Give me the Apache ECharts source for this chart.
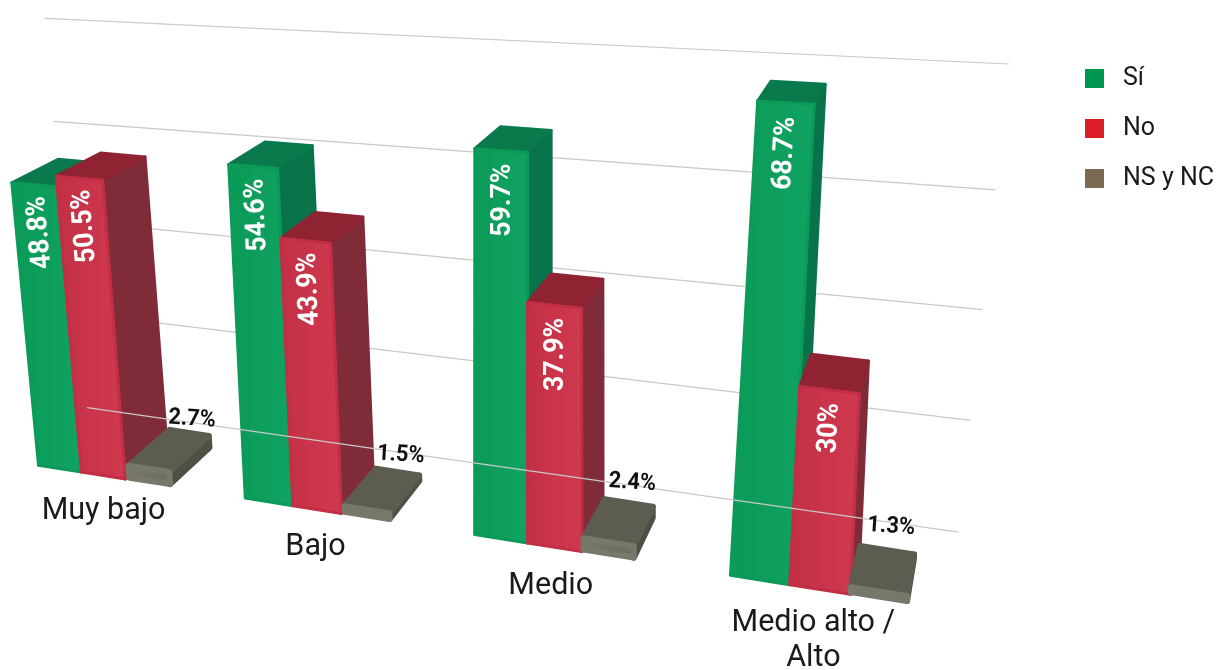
<!DOCTYPE html>
<html><head><meta charset="utf-8">
<style>html,body{margin:0;padding:0;background:#fff}#c{width:1219px;height:670px}</style>
<script src="https://cdn.jsdelivr.net/npm/echarts@6/dist/echarts.min.js"></script>
</head><body><div id="c"></div>
<script>
const categories = ['Muy bajo', 'Bajo', 'Medio', 'Medio alto /\nAlto'];
const si = [48.8, 54.6, 59.7, 68.7];
const no = [50.5, 43.9, 37.9, 30];
const ns = [2.7, 1.5, 2.4, 1.3];
const gridValues = [0, 18, 35, 52.5, 70];

// perspective of the flat axis plane (three vanishing points)
const O = [37, 465], VX = [-3963, -171], VY = [473, 5067], VZ = [1064, -349];
const A = -1 / 4000, B = -1 / 4600, C = 1 / 1000;
const BAR_DEPTH = 46, WALL_DEPTH = 72;
function P(X, Y, Z) {
  const a = A * X, b = B * Y, c = C * Z, w = 1 + a + b + c;
  return [(O[0] + a * VX[0] + b * VY[0] + c * VZ[0]) / w,
          (O[1] + a * VX[1] + b * VY[1] + c * VZ[1]) / w];
}
const flat = (pt) => [pt[0] - O[0], O[1] - pt[1]];
const looks = {
  green: {front: ['#0b9a58', '#10a361'], top: '#0a7a4c', side: '#08734a', lw: 3, inset: 0},
  red: {front: ['#c22f45', '#d03a4f'], top: '#8f2332', side: '#7f2b38', lw: 3, inset: 0},
  gray: {front: ['#78786a', '#6c6c5c'], top: '#5c5c50', side: '#4f4f44', lw: 6, inset: 2}
};
const poly = (pts, fill, stroke, lw) => ({type: 'polygon', shape: {points: pts},
  style: {fill, stroke: stroke || fill, lineWidth: lw, lineJoin: 'round'}});

function barRender(k, look, small) {
  return function (params, api) {
    const i = api.value(0), v = api.value(1);
    const base = api.coord([i, 0]), top = api.coord([i, v]);
    const bw = api.size([1, 0])[0] * 0.2163;
    const [cx, Y0] = flat(base), Yv = flat(top)[1];
    const Xg = cx - 1.5 * bw, far = Xg / 590;
    // upright edges stay nearly parallel toward the near side of the picture
    const T = (x, y) => Xg + (x - Xg) * (1 - 0.14 * (y / 372) * far);
    const gap = small ? 2 - 4 * far : 0;
    const X0 = Xg + k * bw + look.inset + gap, X1 = Xg + (k + 1) * bw - look.inset + gap;
    const D = BAR_DEPTH, lw = look.lw;
    const F = (x, y, z) => {
      const X = T(x, y);
      return P(X, y, z * (1 + A * X + B * y));
    };
    const Yb = Y0 + (small ? 2 : 0), Yt = Math.max(Yv - (small ? 1 : 0), Yb + 1);
    const ch = [
      poly([F(X1, Yb, 0), F(X1, Yb, D), F(X1, Yt, D), F(X1, Yt, 0)], look.side, look.side, lw),
      poly([F(X0, Yt, 0), F(X1, Yt, 0), F(X1, Yt, D), F(X0, Yt, D)], look.top, look.top, lw),
      poly([F(X0, Yb, 0), F(X1, Yb, 0), F(X1, Yt, 0), F(X0, Yt, 0)],
        new echarts.graphic.LinearGradient(0, 0, 1, 0, [{offset: 0, color: look.front[0]}, {offset: 1, color: look.front[1]}]),
        look.front[0], lw)
    ];
    const Xc = (X0 + X1) / 2;
    if (!small) {
      const Yl = Yv - 10;
      const p = F(Xc + 1.5, Yl, 0), q = F(Xc + 1.5, Yl + 20, 0);
      ch.push({type: 'text', x: p[0], y: p[1], scaleX: 0.95,
        rotation: Math.atan2(-(q[1] - p[1]), q[0] - p[0]),
        style: {text: v + '%', fill: '#fff', font: 'bold 28px Roboto', align: 'right', verticalAlign: 'middle'}});
    } else {
      const p = F(Xc + 3, Yv, D), q = F(Xc + 23, Yv, D);
      ch.push({type: 'text', x: p[0], y: p[1] - 13 - 10 * far, scaleX: 0.95,
        rotation: -0.4 * Math.atan2(q[1] - p[1], q[0] - p[0]),
        style: {text: v + '%', fill: '#111', font: 'bold 23px Roboto', align: 'center', verticalAlign: 'middle'}});
    }
    return {type: 'group', children: ch};
  };
}
function wallRender(params, api) {
  const v = api.value(0);
  const Y = flat(api.coord([0, v]))[1];
  const a = P(v === 0 ? -20 : -30, Y, WALL_DEPTH), b = P(743, Y, WALL_DEPTH);
  return {type: 'line', shape: {x1: a[0], y1: a[1], x2: b[0], y2: b[1]},
    style: {stroke: '#c9c9c9', lineWidth: 1.2}};
}
function catRender(params, api) {
  const i = api.value(0);
  const [cx, Y0] = flat(api.coord([i, 0]));
  const p = P(cx, Y0 - 40, 0);
  const lines = categories[i].split('\n').length;
  return {type: 'text', x: p[0] - 3, y: p[1] - 22 - (lines - 1) * 8,
    style: {text: categories[i], fill: '#1a1a1a', font: '30.5px Roboto', align: 'center', verticalAlign: 'top', lineHeight: 35}};
}
const chart = echarts.init(document.getElementById('c'), null, {renderer: 'canvas'});
const rows = (arr) => arr.map((v, i) => [i, v]);
const barSeries = (name, arr, k, look, color, small) => ({
  name, type: 'custom', coordinateSystem: 'cartesian2d', clip: false, silent: true,
  itemStyle: {color}, encode: {x: 0, y: 1},
  renderItem: barRender(k, look, small), data: rows(arr), animation: false
});
chart.setOption({
  animation: false, backgroundColor: '#fff',
  grid: {left: 4, width: 786, top: 29, height: 436},
  xAxis: {type: 'category', data: categories, show: false},
  yAxis: {type: 'value', min: 0, max: 80, show: false},
  legend: {orient: 'vertical', left: 1080, top: 61, itemWidth: 19, itemHeight: 19, itemGap: 25,
    icon: 'rect', selectedMode: false, data: ['Sí', 'No', 'NS y NC'],
    textStyle: {fontFamily: 'Roboto', fontSize: 25, color: '#1a1a1a', padding: [0, 0, 0, 14]}},
  series: [
    {type: 'custom', silent: true, clip: false, renderItem: wallRender, encode: {y: 0},
     data: gridValues.slice(1).map(v => [v])},
    barSeries('Sí', si, 0, looks.green, '#00964f', false),
    barSeries('No', no, 1, looks.red, '#dc1c26', false),
    {type: 'custom', silent: true, clip: false, renderItem: wallRender, encode: {y: 0},
     data: [[gridValues[0]]]},
    barSeries('NS y NC', ns, 2, looks.gray, '#7a6a52', true),
    {type: 'custom', silent: true, clip: false, renderItem: catRender, encode: {x: 0},
     data: categories.map((c, i) => [i])}
  ]
});
</script></body></html>
